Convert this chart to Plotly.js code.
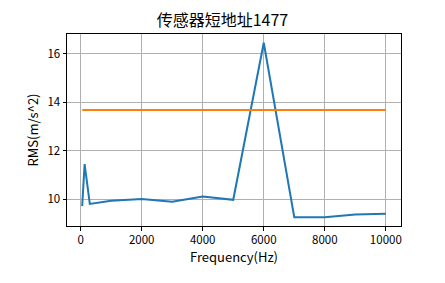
<!DOCTYPE html>
<html><head><meta charset="utf-8">
<script src="https://cdn.plot.ly/plotly-3.0.1.min.js"></script>
<style>body{margin:0;background:#fff}#c{width:445px;height:283px}</style>
</head><body><div id="c"></div>
<script>
const freq = [50, 130, 300, 1000, 2000, 3000, 4000, 5000, 6000, 7000, 8000, 9000, 10000];
const rms = [9.72, 11.45, 9.81, 9.94, 10.01, 9.9, 10.12, 9.98, 16.45, 9.26, 9.26, 9.37, 9.4];
const thrX = [50, 10000];
const thrY = [13.68, 13.68];
const xTicks = [0, 2000, 4000, 6000, 8000, 10000];
const yTicks = [10, 12, 14, 16];
const F = '"Noto Sans CJK SC", "DejaVu Sans", sans-serif';
Plotly.newPlot('c', [
  {x: freq, y: rms, mode: 'lines', line: {color: '#1f77b4', width: 2}},
  {x: thrX, y: thrY, mode: 'lines', line: {color: '#ff7f0e', width: 2}}
], {
  width: 445, height: 283, showlegend: false,
  paper_bgcolor: '#fff', plot_bgcolor: '#fff',
  margin: {l: 67, r: 44, t: 34, b: 57},
  title: {text: '传感器短地址1477', font: {family: F, size: 16, color: '#000'}, x: 0.5, xanchor: 'center', y: 1 - 20/283, yanchor: 'middle'},
  xaxis: {range: [-447.5, 10497.5], tickvals: xTicks, ticktext: xTicks.map(String),
    showgrid: true, gridcolor: '#b0b0b0', gridwidth: 1, zeroline: false,
    showline: true, linecolor: '#000', linewidth: 1, mirror: true,
    ticks: 'outside', ticklen: 3.5, tickcolor: '#000',
    tickfont: {family: F, size: 11.5, color: '#000'},
    title: {text: 'Frequency(Hz)', font: {family: F, size: 13, color: '#000'}, standoff: 5}},
  yaxis: {range: [8.90, 16.81], tickvals: yTicks, ticktext: yTicks.map(String),
    showgrid: true, gridcolor: '#b0b0b0', gridwidth: 1, zeroline: false,
    showline: true, linecolor: '#000', linewidth: 1, mirror: true,
    ticks: 'outside', ticklen: 3.5, tickcolor: '#000',
    tickfont: {family: F, size: 11.5, color: '#000'},
    title: {text: 'RMS(m/s^2)', font: {family: F, size: 13, color: '#000'}, standoff: 5}}
}, {displayModeBar: false});
</script></body></html>
